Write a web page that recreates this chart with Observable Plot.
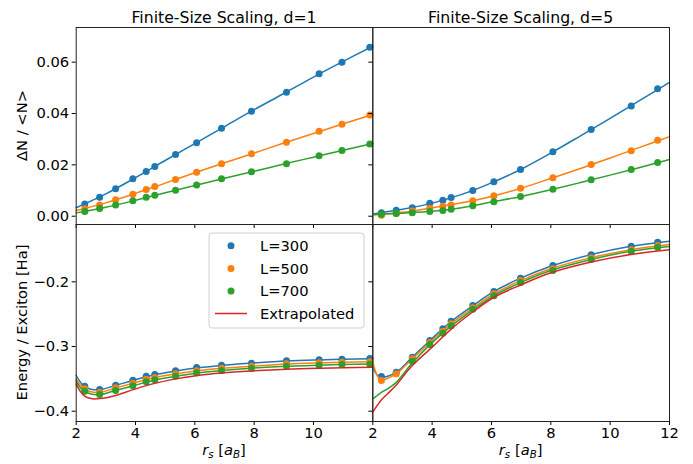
<!DOCTYPE html>
<html><head><meta charset="utf-8">
<script src="https://cdn.jsdelivr.net/npm/d3@7"></script>
<script src="https://cdn.jsdelivr.net/npm/@observablehq/plot@0.6"></script>
<style>
body{margin:0;background:#fff;}
#wrap{position:relative;width:693px;height:464px;font-family:"DejaVu Sans",sans-serif;color:#000;background:#fff;}
#wrap svg{position:absolute;left:0;top:0;}
</style></head><body><div id="wrap"></div>
<script>
// ---------- data ----------
const titles = ["Finite-Size Scaling, d=1", "Finite-Size Scaling, d=5"];
const seriesNames = ["L=300", "L=500", "L=700", "Extrapolated"];
const colors = ["#1f77b4", "#ff7f0e", "#2ca02c", "#d62728"];
const xTicksLeft = [2, 4, 6, 8, 10];
const xTicksRight = [2, 4, 6, 8, 10, 12];
const yTicksTop = [0, 0.02, 0.04, 0.06];
const yTicksBottom = [-0.4, -0.3, -0.2];

const rsD1 = [2.29, 2.79, 3.33, 3.91, 4.36, 4.65, 5.35, 6.06, 6.90, 7.91, 9.09, 10.19, 10.96, 11.90];
const rsD5 = [2.29, 2.79, 3.33, 3.92, 4.36, 4.64, 5.37, 6.08, 6.98, 8.07, 9.36, 10.71, 11.60];

// Delta N / <N>, d=1
const dN_d1_L300 = [0.0048, 0.0074, 0.0107, 0.0146, 0.0174, 0.0194, 0.0240, 0.0286, 0.0343, 0.0409, 0.0483, 0.0555, 0.0600, 0.0658];
const dN_d1_L500 = [0.0029, 0.0044, 0.0064, 0.0086, 0.0104, 0.0116, 0.0143, 0.0171, 0.0204, 0.0243, 0.0288, 0.0331, 0.0358, 0.0394];
const dN_d1_L700 = [0.0018, 0.0030, 0.0044, 0.0060, 0.0074, 0.0082, 0.0101, 0.0122, 0.0146, 0.0173, 0.0204, 0.0235, 0.0256, 0.0281];
// Delta N / <N>, d=5
const dN_d5_L300 = [0.0013, 0.0023, 0.0033, 0.0050, 0.0062, 0.0073, 0.0100, 0.0134, 0.0182, 0.0251, 0.0338, 0.0429, 0.0496];
const dN_d5_L500 = [0.0004, 0.0011, 0.0020, 0.0031, 0.0039, 0.0044, 0.0060, 0.0080, 0.0109, 0.0150, 0.0201, 0.0255, 0.0296];
const dN_d5_L700 = [0.0008, 0.0011, 0.0013, 0.0018, 0.0022, 0.0027, 0.0041, 0.0056, 0.0077, 0.0105, 0.0142, 0.0182, 0.0209];

// fitted curves, top row
const fitRsTop = [2, 3, 4, 5, 6, 7, 8, 9, 10, 11, 12];
const fit_dN_d1_L300 = [0.0033, 0.0087, 0.0150, 0.0217, 0.0283, 0.0349, 0.0415, 0.0478, 0.0542, 0.0603, 0.0662];
const fit_dN_d1_L500 = [0.0022, 0.0052, 0.0089, 0.0129, 0.0169, 0.0208, 0.0246, 0.0285, 0.0322, 0.0360, 0.0396];
const fit_dN_d1_L700 = [0.0013, 0.0035, 0.0062, 0.0091, 0.0120, 0.0148, 0.0175, 0.0203, 0.0230, 0.0257, 0.0283];
const fit_dN_d5_L300 = [0.0009, 0.0027, 0.0051, 0.0085, 0.0130, 0.0183, 0.0246, 0.0313, 0.0381, 0.0451, 0.0521];
const fit_dN_d5_L500 = [0.0005, 0.0015, 0.0033, 0.0052, 0.0077, 0.0109, 0.0147, 0.0186, 0.0227, 0.0268, 0.0310];
const fit_dN_d5_L700 = [0.0007, 0.0012, 0.0019, 0.0033, 0.0055, 0.0077, 0.0103, 0.0131, 0.0160, 0.0190, 0.0221];

// Energy / exciton, d=1
const E_d1_L300 = [-0.3614, -0.3665, -0.3598, -0.3521, -0.3459, -0.3433, -0.3376, -0.3325, -0.3289, -0.3258, -0.3221, -0.3206, -0.3196, -0.3185];
const E_d1_L500 = [-0.3654, -0.3706, -0.3638, -0.3567, -0.3505, -0.3479, -0.3422, -0.3376, -0.3335, -0.3304, -0.3267, -0.3252, -0.3243, -0.3236];
const E_d1_L700 = [-0.3691, -0.3742, -0.3680, -0.3607, -0.3546, -0.3515, -0.3459, -0.3406, -0.3371, -0.3335, -0.3304, -0.3289, -0.3278, -0.3274];
// Energy / exciton, d=5 (L=700 not visible at the two smallest rs)
const E_d5_L300 = [-0.3464, -0.3397, -0.3165, -0.2907, -0.2727, -0.2609, -0.2366, -0.2150, -0.1944, -0.1748, -0.1583, -0.1450, -0.1388];
const E_d5_L500 = [-0.3525, -0.3422, -0.3190, -0.2938, -0.2764, -0.2649, -0.2402, -0.2185, -0.1980, -0.1799, -0.1629, -0.1505, -0.1439];
const E_d5_L700 = [null, null, -0.3227, -0.2969, -0.2794, -0.2680, -0.2423, -0.2216, -0.2011, -0.1825, -0.1655, -0.1527, -0.1465];

// fitted curves, bottom row
const fitRsE1 = [2, 2.15, 2.3, 2.5, 2.8, 3.3, 3.9, 4.65, 5.35, 6.1, 6.9, 7.9, 9.1, 10.2, 11, 12];
const fit_E_d1_L300 = [-0.3448, -0.3555, -0.3620, -0.3660, -0.3667, -0.3605, -0.3525, -0.3435, -0.3378, -0.3330, -0.3292, -0.3258, -0.3224, -0.3207, -0.3198, -0.3190];
const fit_E_d1_L500 = [-0.3500, -0.3600, -0.3660, -0.3700, -0.3708, -0.3645, -0.3570, -0.3480, -0.3424, -0.3376, -0.3336, -0.3304, -0.3270, -0.3253, -0.3244, -0.3236];
const fit_E_d1_L700 = [-0.3530, -0.3640, -0.3695, -0.3735, -0.3743, -0.3683, -0.3610, -0.3517, -0.3462, -0.3408, -0.3372, -0.3336, -0.3305, -0.3289, -0.3279, -0.3272];
const fit_E_d1_ext  = [-0.3577, -0.3700, -0.3770, -0.3805, -0.3805, -0.3760, -0.3670, -0.3570, -0.3500, -0.3448, -0.3410, -0.3378, -0.3350, -0.3335, -0.3328, -0.3320];
const fitRsE5 = [2, 2.15, 2.3, 2.5, 2.8, 3.3, 4, 4.65, 5.4, 6.1, 7, 8, 9.4, 10.7, 12];
const fit_E_d5_L300 = [-0.3320, -0.3440, -0.3474, -0.3460, -0.3397, -0.3180, -0.2875, -0.2610, -0.2360, -0.2145, -0.1940, -0.1760, -0.1575, -0.1450, -0.1372];
const fit_E_d5_L500 = [-0.3243, -0.3450, -0.3525, -0.3490, -0.3420, -0.3205, -0.2905, -0.2645, -0.2395, -0.2180, -0.1978, -0.1797, -0.1622, -0.1505, -0.1424];
const fit_E_d5_L700 = [-0.3808, -0.3757, -0.3705, -0.3654, -0.3550, -0.3270, -0.2940, -0.2680, -0.2425, -0.2210, -0.2008, -0.1825, -0.1650, -0.1527, -0.1454];
const fit_E_d5_ext  = [-0.4015, -0.3910, -0.3820, -0.3730, -0.3590, -0.3310, -0.3010, -0.2727, -0.2455, -0.2235, -0.2046, -0.1861, -0.1690, -0.1578, -0.1505];

// ---------- helpers ----------
const rows = (xs, ys) => xs.map((rs, i) => ({rs, v: ys[i]})).filter(d => d.v != null);
const W = 693, H = 464;
const colX = [[75.7, 372.3], [372.3, 669]];
const rowY = [[27, 224], [224, 421]];
const yDomains = [[-0.00323, 0.0735], [-0.4159, -0.1114]];

function panel(col, row, pts, fits) {
  const [x0, x1] = colX[col], [y0, y1] = rowY[row];
  const marks = [];
  pts.forEach((p, i) => {
    marks.push(Plot.dot(p, {x: "rs", y: "v", fill: colors[i], r: 3.5}));
    marks.push(Plot.line(fits[i], {x: "rs", y: "v", stroke: colors[i], strokeWidth: 1.5, curve: "catmull-rom"}));
  });
  if (fits.length > pts.length) {
    marks.push(Plot.line(fits[3], {x: "rs", y: "v", stroke: colors[3], strokeWidth: 1.5, curve: "catmull-rom"}));
  }
  marks.push(Plot.axisX({anchor: "bottom", ticks: col === 0 ? xTicksLeft : xTicksRight, tickSize: 4, tickPadding: 2,
    stroke: "#000", fill: row === 1 ? "#000" : "none", label: null, tickFormat: "d"}));
  marks.push(Plot.axisY({anchor: "left", ticks: row === 0 ? yTicksTop : yTicksBottom, tickSize: 4, tickPadding: 3,
    stroke: "#000", fill: col === 0 ? "#000" : "none", label: null, tickFormat: row === 0 ? ".2f" : ".1f"}));
  marks.push(Plot.frame({stroke: "#222", strokeWidth: 1}));
  return Plot.plot({
    width: W, height: H,
    marginLeft: x0, marginRight: W - x1, marginTop: y0, marginBottom: H - y1,
    x: {domain: [2, 12]},
    y: {domain: yDomains[row]},
    style: {background: "transparent", fontFamily: "DejaVu Sans", fontSize: "14.7px", overflow: "visible"},
    marks
  });
}

const wrap = document.getElementById("wrap");
wrap.append(panel(0, 0,
  [rows(rsD1, dN_d1_L300), rows(rsD1, dN_d1_L500), rows(rsD1, dN_d1_L700)],
  [rows(fitRsTop, fit_dN_d1_L300), rows(fitRsTop, fit_dN_d1_L500), rows(fitRsTop, fit_dN_d1_L700)]));
wrap.append(panel(1, 0,
  [rows(rsD5, dN_d5_L300), rows(rsD5, dN_d5_L500), rows(rsD5, dN_d5_L700)],
  [rows(fitRsTop, fit_dN_d5_L300), rows(fitRsTop, fit_dN_d5_L500), rows(fitRsTop, fit_dN_d5_L700)]));
wrap.append(panel(0, 1,
  [rows(rsD1, E_d1_L300), rows(rsD1, E_d1_L500), rows(rsD1, E_d1_L700)],
  [rows(fitRsE1, fit_E_d1_L300), rows(fitRsE1, fit_E_d1_L500), rows(fitRsE1, fit_E_d1_L700), rows(fitRsE1, fit_E_d1_ext)]));
wrap.append(panel(1, 1,
  [rows(rsD5, E_d5_L300), rows(rsD5, E_d5_L500), rows(rsD5, E_d5_L700)],
  [rows(fitRsE5, fit_E_d5_L300), rows(fitRsE5, fit_E_d5_L500), rows(fitRsE5, fit_E_d5_L700), rows(fitRsE5, fit_E_d5_ext)]));

// ---------- overlay: titles, axis labels, legend ----------
const svg = d3.create("svg").attr("width", W).attr("height", H)
  .style("font-family", "DejaVu Sans").style("pointer-events", "none").style("overflow", "visible");
titles.forEach((t, i) => {
  svg.append("text").attr("x", (colX[i][0] + colX[i][1]) / 2).attr("y", 22.5)
    .attr("text-anchor", "middle").attr("font-size", 15.7).attr("fill", "#000").text(t);
});
const yLabels = ["ΔN / <N>", "Energy / Exciton [Ha]"];
yLabels.forEach((t, i) => {
  svg.append("text").attr("transform", `translate(26.5,${(rowY[i][0] + rowY[i][1]) / 2}) rotate(-90)`)
    .attr("text-anchor", "middle").attr("font-size", 14.7).attr("fill", "#000").text(t);
});
colX.forEach(([a, b]) => {
  const t = svg.append("text").attr("x", (a + b) / 2).attr("y", 455).attr("text-anchor", "middle")
    .attr("font-size", 14.7).attr("fill", "#000");
  t.append("tspan").attr("font-style", "italic").text("r");
  t.append("tspan").attr("font-style", "italic").attr("font-size", 10.3).attr("dy", 3).text("s");
  t.append("tspan").attr("dy", -3).text(" [");
  t.append("tspan").attr("font-style", "italic").text("a");
  t.append("tspan").attr("font-style", "italic").attr("font-size", 10.3).attr("dy", 3).text("B");
  t.append("tspan").attr("dy", -3).text("]");
});
// legend
const lg = svg.append("g");
lg.append("rect").attr("x", 209).attr("y", 233).attr("width", 155).attr("height", 95).attr("rx", 3)
  .attr("fill", "white").attr("fill-opacity", 0.8).attr("stroke", "#d0d0d0").attr("stroke-width", 1);
const legY = [245.7, 268.5, 291, 313.5];
seriesNames.forEach((n, i) => {
  if (i < 3) lg.append("circle").attr("cx", 231).attr("cy", legY[i]).attr("r", 3.5).attr("fill", colors[i]);
  else lg.append("line").attr("x1", 215).attr("x2", 247).attr("y1", legY[i]).attr("y2", legY[i])
    .attr("stroke", colors[i]).attr("stroke-width", 1.5);
  lg.append("text").attr("x", 260).attr("y", legY[i] + 5.3).attr("font-size", 14.7).attr("fill", "#000").text(n);
});
wrap.append(svg.node());
</script></body></html>
